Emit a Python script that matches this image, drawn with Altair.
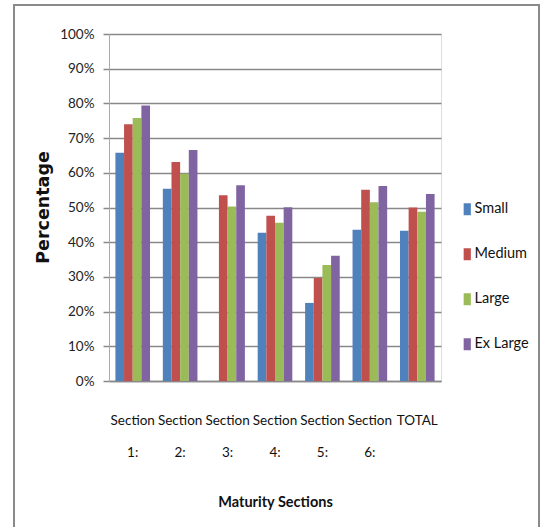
import altair as alt
import pandas as pd

categories = ["Section 1:", "Section 2:", "Section 3:", "Section 4:", "Section 5:", "Section 6:", "TOTAL"]
series = ["Small", "Medium", "Large", "Ex Large"]
small = [65.8, 55.4, 0.0, 42.7, 22.5, 43.6, 43.3]
medium = [74.0, 63.1, 53.5, 47.6, 29.7, 55.1, 50.0]
large = [75.8, 59.7, 50.3, 45.6, 33.4, 51.5, 48.8]
ex_large = [79.4, 66.6, 56.4, 50.1, 36.1, 56.2, 53.9]
colors = ["#4F81BD", "#C0504D", "#9BBB59", "#8064A2"]
y_ticks = [0, 10, 20, 30, 40, 50, 60, 70, 80, 90, 100]

rows = []
for s, vals in zip(series, [small, medium, large, ex_large]):
    for c, v in zip(categories, vals):
        rows.append({"section": c, "size": s, "pct": v / 100.0})
df = pd.DataFrame(rows)

FONT = "Lato"

bars = alt.Chart(df).mark_bar().encode(
    x=alt.X("section:N", sort=categories,
            scale=alt.Scale(paddingInner=0.27, paddingOuter=0.135),
            axis=alt.Axis(title="Maturity Sections", labelAngle=0,
                          labelExpr="split(datum.label, ' ')",
                          labelFont=FONT, labelFontSize=13.5, labelColor="#111",
                          labelLineHeight=32, labelPadding=32, labelBaseline="top",
                          ticks=False, domainColor="#888", domainWidth=1.5,
                          titleFont=FONT, titleFontSize=14.5, titleFontWeight="bold",
                          titleColor="#111", titleY=121, titleBaseline="middle")),
    xOffset=alt.XOffset("size:N", sort=series, scale=alt.Scale(paddingInner=0, paddingOuter=0)),
    y=alt.Y("pct:Q", scale=alt.Scale(domain=[0, 1], nice=False),
            axis=alt.Axis(title="Percentage", format=".0%", values=[v / 100 for v in y_ticks],
                          labelFont=FONT, labelFontSize=13.5, labelColor="#222",
                          labelPadding=9, tickSize=6, tickColor="#888", tickWidth=1.5,
                          domainColor="#aaa", domainWidth=1,
                          gridColor="#888", gridWidth=1.5,
                          titleFont="DejaVu Sans", titleFontSize=17.5, titleFontWeight="bold",
                          titleColor="#111", titleAngle=270, titleAlign="center",
                          titleBaseline="middle", titleX=-66, titleY=173)),
    color=alt.Color("size:N", sort=series,
                    scale=alt.Scale(domain=series, range=colors),
                    legend=alt.Legend(title=None, orient="none", legendX=351, legendY=168,
                                      symbolType="M-0.6,-1L0.6,-1L0.6,1L-0.6,1Z",
                                      symbolSize=144, symbolStrokeWidth=0,
                                      labelFont=FONT, labelFontSize=14.5, labelColor="#111",
                                      labelOffset=0, rowPadding=30, padding=0)),
)

frame = alt.Chart(pd.DataFrame({"a": [0]})).mark_rect(
    fill=None, stroke="#8a8a8a", strokeWidth=2
).encode(x=alt.value(-95), x2=alt.value(430), y=alt.value(-29), y2=alt.value(510))

chart = alt.layer(frame, bars).properties(
    width=332, height=347,
    autosize=alt.AutoSizeParams(type="none"),
    padding={"left": 109, "top": 34, "right": 100, "bottom": 146},
).configure_view(stroke=None).configure(background="white")

chart.save("out.html", embed_options={"renderer": "svg", "actions": False})
